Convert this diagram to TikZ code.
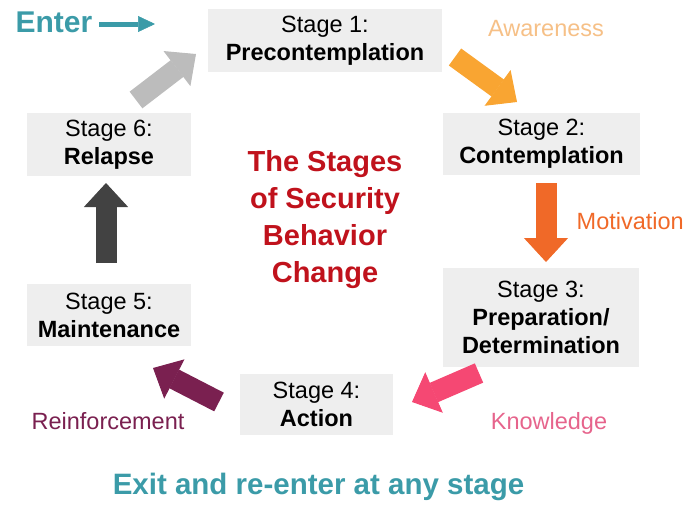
\documentclass[tikz,border=0pt]{standalone}
\usepackage{fontspec}
\setmainfont{Liberation Sans}
\usepackage{xcolor}
\usetikzlibrary{arrows.meta, positioning}

\definecolor{stagegray}{RGB}{238,238,238}
\definecolor{titlered}{RGB}{192,18,28}
\definecolor{tealc}{RGB}{59,155,168}
\definecolor{awareorange}{RGB}{246,192,135}
\definecolor{arroworange}{RGB}{249,165,50}
\definecolor{motivorange}{RGB}{240,105,40}
\definecolor{knowpink}{RGB}{245,72,115}
\definecolor{knowtext}{RGB}{230,100,140}
\definecolor{reinfplum}{RGB}{122,32,80}
\definecolor{backgray}{RGB}{188,188,188}
\definecolor{upgray}{RGB}{66,66,66}

\begin{document}
\begin{tikzpicture}[
    x=1pt, y=-1pt,
    box/.style={fill=stagegray, align=center, inner sep=0pt, font=\fontsize{23.5}{28}\selectfont},
    cue/.style={font=\fontsize{23.5}{28}\selectfont},
    bigarrow/.style={line width=21pt, -{Triangle[width=44pt, length=24pt, line width=1pt]}},
    thinarrow/.style={line width=5pt, -{Triangle[width=16pt, length=17pt, line width=0.5pt]}}
]
    \useasboundingbox (0,0) rectangle (685,506);

    % Stages
    \node[box, minimum width=234pt, minimum height=63pt] (s1) at (325,40.5) {Stage 1:\\\textbf{Precontemplation}};
    \node[box, minimum width=197pt, minimum height=62pt] (s2) at (541.5,144) {Stage 2:\\\textbf{Contemplation}};
    \node[box, minimum width=196pt, minimum height=99pt] (s3) at (541,317.5) {Stage 3:\\\textbf{Preparation/}\\\textbf{Determination}};
    \node[box, minimum width=153pt, minimum height=61pt] (s4) at (316.5,404.5) {Stage 4:\\\textbf{Action}};
    \node[box, minimum width=164pt, minimum height=62pt] (s5) at (109,315) {Stage 5:\\\textbf{Maintenance}};
    \node[box, minimum width=164pt, minimum height=63pt] (s6) at (109,144.5) {Stage 6:\\\textbf{Relapse}};

    % Title
    \node[align=center, text=titlered, font=\bfseries\fontsize{29}{37}\selectfont] (title) at (325,220) {The Stages\\of Security\\Behavior\\Change};

    % Enter / Exit
    \node[anchor=base west, text=tealc, font=\bfseries\fontsize{30}{36}\selectfont] (enter) at (12,32) {Enter};
    \coordinate (enterA) at (99,24);
    \coordinate (enterB) at (155,24);
    \draw[thinarrow, tealc] (enterA) -- (enterB);
    \node[anchor=base, text=tealc, font=\bfseries\fontsize{29.5}{36}\selectfont] (exit) at (318.5,494) {Exit and re-enter at any stage};

    % Cues
    \node[cue, anchor=base, text=awareorange] (aware) at (546,36) {Awareness};
    \node[cue, anchor=base east, inner xsep=1pt, text=motivorange] (motiv) at (685,229) {Motivation};
    \node[cue, anchor=base, text=knowtext] (know) at (549,429) {Knowledge};
    \node[cue, anchor=base, text=reinfplum] (reinf) at (108,429) {Reinforcement};

    % Block arrows
    \coordinate (a12) at (455,57);   \coordinate (b12) at (517,102);
    \coordinate (a23) at (546,183);  \coordinate (b23) at (546,262);
    \coordinate (a34) at (479,373);  \coordinate (b34) at (412,402);
    \coordinate (a45) at (219,402);  \coordinate (b45) at (153,368);
    \coordinate (a56) at (106,263);  \coordinate (b56) at (106,183);
    \coordinate (a61) at (136,100);  \coordinate (b61) at (196,54);
    \draw[bigarrow, arroworange] (a12) -- (b12);
    \draw[bigarrow, motivorange] (a23) -- (b23);
    \draw[bigarrow, knowpink] (a34) -- (b34);
    \draw[bigarrow, reinfplum] (a45) -- (b45);
    \draw[bigarrow, upgray] (a56) -- (b56);
    \draw[bigarrow, backgray] (a61) -- (b61);

\end{tikzpicture}
\end{document}
